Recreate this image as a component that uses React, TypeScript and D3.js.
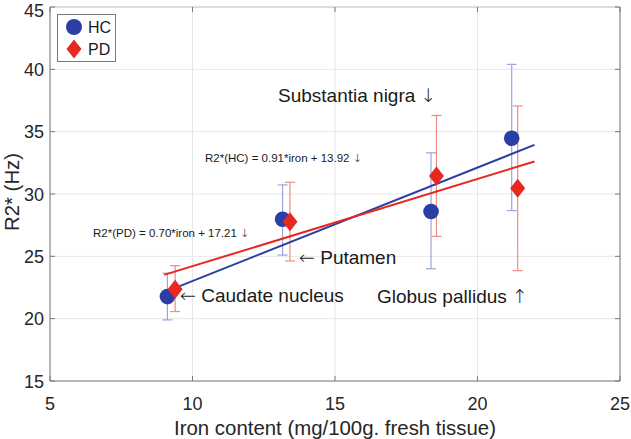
import React from "react";
import * as d3 from "d3";

const regions = ["Caudate nucleus", "Putamen", "Substantia nigra", "Globus pallidus"];
const hcIron = [9.12, 13.16, 18.37, 21.2];
const hcR2 = [21.77, 27.97, 28.6, 34.47];
const hcLow = [19.9, 25.1, 24.0, 28.67];
const hcHigh = [23.65, 30.73, 33.3, 40.4];
const pdIron = [9.39, 13.42, 18.56, 21.41];
const pdR2 = [22.36, 27.78, 31.45, 30.46];
const pdLow = [20.57, 24.63, 26.6, 23.85];
const pdHigh = [24.25, 30.94, 36.3, 37.06];
const fitSlope = { HC: 0.91, PD: 0.7 };
const fitIntercept = { HC: 13.92, PD: 17.21 };
const fitRange = [9, 22];
const xTicks = [5, 10, 15, 20, 25];
const yTicks = [15, 20, 25, 30, 35, 40, 45];

const W = 631, H = 439;
const L = 50, R = 620, T = 7, B = 381;
const BLUE = "#2b3ea3";
const RED = "#e8271f";
const LBLUE = "#9aa5dc";
const LRED = "#f08a86";
const FONT = "'Liberation Sans', Arial, Helvetica, sans-serif";
const ARROWFONT = "'DejaVu Sans', sans-serif";

export default function App() {
  const x = d3.scaleLinear().domain([5, 25]).range([L, R]);
  const y = d3.scaleLinear().domain([15, 45]).range([B, T]);
  const fitPts = (k: "HC" | "PD") =>
    fitRange.map((v) => [v, fitSlope[k] * v + fitIntercept[k]]);
  const lineGen = d3
    .line<number[]>()
    .x((d) => x(d[0]))
    .y((d) => y(d[1]));
  const cap = 5;
  const diamond = (cx: number, cy: number) =>
    `M${cx},${cy - 9.5}L${cx + 7.5},${cy}L${cx},${cy + 9.5}L${cx - 7.5},${cy}Z`;

  const errBars = (xs: number[], lo: number[], hi: number[], color: string) =>
    xs.map((xv, i) => (
      <g key={i} stroke={color} strokeWidth={1.2}>
        <line x1={x(xv)} x2={x(xv)} y1={y(lo[i])} y2={y(hi[i])} />
        <line x1={x(xv) - cap} x2={x(xv) + cap} y1={y(lo[i])} y2={y(lo[i])} />
        <line x1={x(xv) - cap} x2={x(xv) + cap} y1={y(hi[i])} y2={y(hi[i])} />
      </g>
    ));

  const arrow = (a: string) => (
    <tspan fontFamily={ARROWFONT} fontWeight={200}>{a}</tspan>
  );

  return (
    <svg
      width={W}
      height={H}
      style={{ position: "absolute", left: 0, top: 0, background: "#fff" }}
      fontFamily={FONT}
    >
      <rect x={0} y={0} width={W} height={H} fill="#fff" />
      {/* grid */}
      <g stroke="#e6e6e6" strokeWidth={1}>
        {xTicks.map((t) => (
          <line key={"gx" + t} x1={x(t)} x2={x(t)} y1={T} y2={B} />
        ))}
        {yTicks.map((t) => (
          <line key={"gy" + t} x1={L} x2={R} y1={y(t)} y2={y(t)} />
        ))}
      </g>
      {/* box + ticks */}
      <g stroke="#7a7a7a" strokeWidth={1}>
        <line x1={L} x2={R} y1={B} y2={B} />
        <line x1={L} x2={L} y1={T} y2={B} />
        <line x1={L} x2={R} y1={T} y2={T} stroke="#c8c8c8" />
        <line x1={R} x2={R} y1={T} y2={B} />
        {xTicks.map((t) => (
          <g key={"tx" + t}>
            <line x1={x(t)} x2={x(t)} y1={B} y2={B - 5} />
            <line x1={x(t)} x2={x(t)} y1={T} y2={T + 5} />
          </g>
        ))}
        {yTicks.map((t) => (
          <g key={"ty" + t}>
            <line x1={L} x2={L + 5} y1={y(t)} y2={y(t)} />
            <line x1={R} x2={R - 5} y1={y(t)} y2={y(t)} />
          </g>
        ))}
      </g>
      {/* tick labels */}
      <g fill="#262626" fontSize={18}>
        {xTicks.map((t) => (
          <text key={"lx" + t} x={x(t)} y={410} textAnchor="middle">
            {t}
          </text>
        ))}
        {yTicks.map((t) => (
          <text key={"ly" + t} x={44} y={Math.max(y(t) + 6.5, 16.5)} textAnchor="end">
            {t}
          </text>
        ))}
      </g>
      <text x={(L + R) / 2} y={435} textAnchor="middle" fontSize={20.4} fill="#262626">
        Iron content (mg/100g. fresh tissue)
      </text>
      <text
        transform={`translate(19,${192}) rotate(-90)`}
        textAnchor="middle"
        fontSize={20.4}
        fill="#262626"
      >
        R2* (Hz)
      </text>

      {/* error bars */}
      {errBars(hcIron, hcLow, hcHigh, LBLUE)}
      {errBars(pdIron, pdLow, pdHigh, LRED)}

      {/* fit lines */}
      <path d={lineGen(fitPts("HC")) || ""} stroke={BLUE} strokeWidth={2} fill="none" />
      <path d={lineGen(fitPts("PD")) || ""} stroke={RED} strokeWidth={2} fill="none" />

      {/* markers */}
      {hcIron.map((v, i) => (
        <circle key={"hc" + i} cx={x(v)} cy={y(hcR2[i])} r={7.8} fill={BLUE} />
      ))}
      {pdIron.map((v, i) => (
        <path key={"pd" + i} d={diamond(x(v), y(pdR2[i]))} fill={RED} />
      ))}

      {/* annotations */}
      <g fill="#1a1a1a" fontSize={19}>
        <text x={278} y={102}>{regions[2]} {arrow("↓")}</text>
        <text x={299} y={264}>{arrow("←")} {regions[1]}</text>
        <text x={180} y={302}>{arrow("←")} {regions[0]}</text>
        <text x={528} y={303} textAnchor="end">{regions[3]} {arrow("↑")}</text>
      </g>
      <g fill="#1a1a1a" fontSize={11.5}>
        <text x={205} y={162}>R2*(HC) = 0.91*iron + 13.92 {arrow("↓")}</text>
        <text x={93} y={237}>R2*(PD) = 0.70*iron + 17.21 {arrow("↓")}</text>
      </g>

      {/* legend */}
      <rect x={57.5} y={14.5} width={58} height={47} fill="#fff" stroke="#7a7a7a" strokeWidth={1} />
      <circle cx={74} cy={27} r={8} fill={BLUE} />
      <path d={diamond(74, 49)} fill={RED} />
      <g fill="#1a1a1a" fontSize={16}>
        <text x={88} y={33}>HC</text>
        <text x={88} y={55}>PD</text>
      </g>
    </svg>
  );
}
